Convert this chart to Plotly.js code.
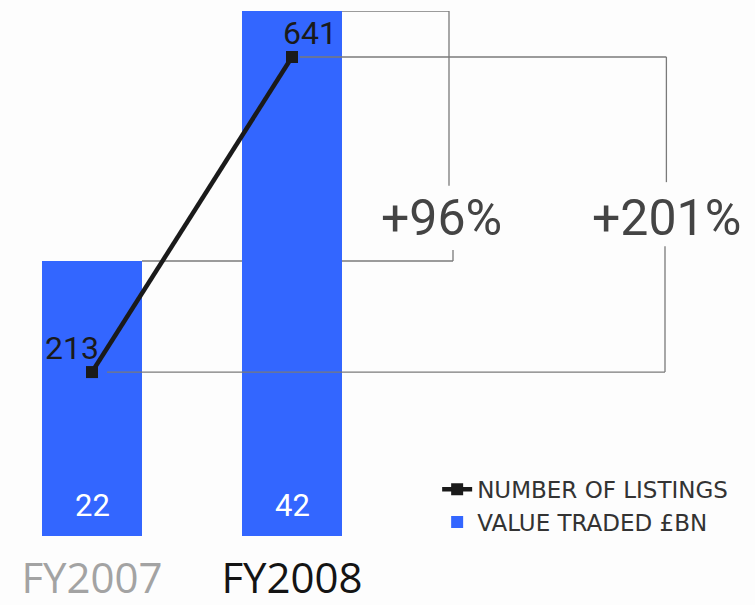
<!DOCTYPE html>
<html>
<head>
<meta charset="utf-8">
<script src="https://cdn.plot.ly/plotly-3.0.1.min.js"></script>
<style>
  html, body { margin: 0; padding: 0; background: #fdfdfd; }
  #chart { width: 755px; height: 605px; }
</style>
</head>
<body>
<div id="chart"></div>
<script>
// ---- data ----
const years = ["FY2007", "FY2008"];
const yearColors = ["#a3a3a3", "#141414"];
const valueTraded = [22, 42];          // £bn (bars)
const listings = [213, 641];           // number of listings (line)
const changeLabels = ["+96%", "+201%"]; // value traded change, listings change
const seriesNames = ["NUMBER OF LISTINGS", "VALUE TRADED £BN"];

// ---- styling ----
const blue = "#3366ff";
const dark = "#1a1a1a";
const grey = "#7a7a7a";
const narrow = "Roboto, 'Liberation Sans', sans-serif";
const wide = "'Open Sans', 'DejaVu Sans', sans-serif";
const legendFont = "'DejaVu Sans', Verdana, sans-serif";

const yRange = [0, 42];
const y2Range = [-9.7, 703.5];
const toY = f => yRange[0] + f * (yRange[1] - yRange[0]);
const toY2 = f => y2Range[0] + f * (y2Range[1] - y2Range[0]);

const line = {
  type: "scatter", mode: "lines+markers",
  x: years, y: listings, yaxis: "y2", name: seriesNames[0],
  line: { color: dark, width: 4.5 },
  marker: { symbol: "square", size: 12, color: dark },
  cliponaxis: false, hoverinfo: "skip"
};
const bars = {
  type: "bar", x: years, y: valueTraded, name: seriesNames[1],
  marker: { color: blue, line: { width: 0 } },
  width: 0.5, hoverinfo: "skip"
};

const gl = { color: grey, width: 1.3 };
const shapes = [
  // +96% bracket (value traded)
  { type: "line", xref: "x", yref: "y", x0: 1.25, x1: 1.785, y0: valueTraded[1], y1: valueTraded[1], line: gl, layer: "below" },
  { type: "line", xref: "x", yref: "y", x0: 1.785, x1: 1.785, y0: valueTraded[1], y1: toY(0.667), line: gl, layer: "below" },
  { type: "line", xref: "x", yref: "y", x0: 1.805, x1: 1.805, y0: toY(0.545), y1: valueTraded[0], line: gl, layer: "below" },
  { type: "line", xref: "x", yref: "y", x0: 0.25, x1: 1.805, y0: valueTraded[0], y1: valueTraded[0], line: gl, layer: "below" },
  // +201% bracket (listings)
  { type: "line", xref: "x", yref: "y2", x0: 1.04, x1: 2.872, y0: listings[1], y1: listings[1], line: gl },
  { type: "line", xref: "x", yref: "y2", x0: 2.872, x1: 2.872, y0: listings[1], y1: toY2(0.674), line: gl },
  { type: "line", xref: "x", yref: "y2", x0: 2.865, x1: 2.865, y0: toY2(0.552), y1: listings[0], line: gl },
  { type: "line", xref: "x", yref: "y2", x0: 0.075, x1: 2.865, y0: listings[0], y1: listings[0], line: gl }
];

const annotations = [
  { xref: "x", yref: "paper", x: 1.745, y: 0.606, text: changeLabels[0], showarrow: false,
    font: { family: narrow, size: 50, color: "#444" } },
  { xref: "x", yref: "paper", x: 2.87, y: 0.606, text: changeLabels[1], showarrow: false,
    font: { family: narrow, size: 50, color: "#444" } }
].concat(years.map((c, i) => ({
  xref: "x", yref: "y", x: c, y: 0, yshift: 31, text: String(valueTraded[i]), showarrow: false,
  font: { family: narrow, size: 31, color: "#ffffff" }
}))).concat(years.map((c, i) => ({
  xref: "x", yref: "y2", x: c, y: listings[i], xshift: i === 0 ? -20 : 18, yshift: 24,
  text: String(listings[i]), showarrow: false,
  font: { family: narrow, size: 32, color: dark }
})));

const layout = {
  width: 755, height: 605,
  margin: { l: 0, r: 0, t: 11, b: 69, pad: 0 },
  paper_bgcolor: "#fdfdfd", plot_bgcolor: "#fdfdfd",
  showlegend: true,
  legend: {
    x: 0.579, y: 0.13, xanchor: "left", yanchor: "top",
    font: { family: legendFont, size: 23, color: "#333" },
    bgcolor: "rgba(0,0,0,0)", traceorder: "normal", tracegroupgap: 0
  },
  xaxis: {
    type: "category", range: [-0.46, 3.315],
    tickmode: "array", tickvals: years,
    ticktext: years.map((c, i) => `<span style="color:${yearColors[i]}">${c}</span>`),
    tickfont: { family: wide, size: 42 },
    ticklabelstandoff: 14,
    showgrid: false, zeroline: false, showline: false, ticks: ""
  },
  yaxis: { range: yRange, visible: false, showgrid: false, zeroline: false },
  yaxis2: { range: y2Range, overlaying: "y", visible: false, showgrid: false, zeroline: false },
  shapes: shapes,
  annotations: annotations
};

Plotly.newPlot("chart", [line, bars], layout, { displayModeBar: false, staticPlot: true });
</script>
</body>
</html>
